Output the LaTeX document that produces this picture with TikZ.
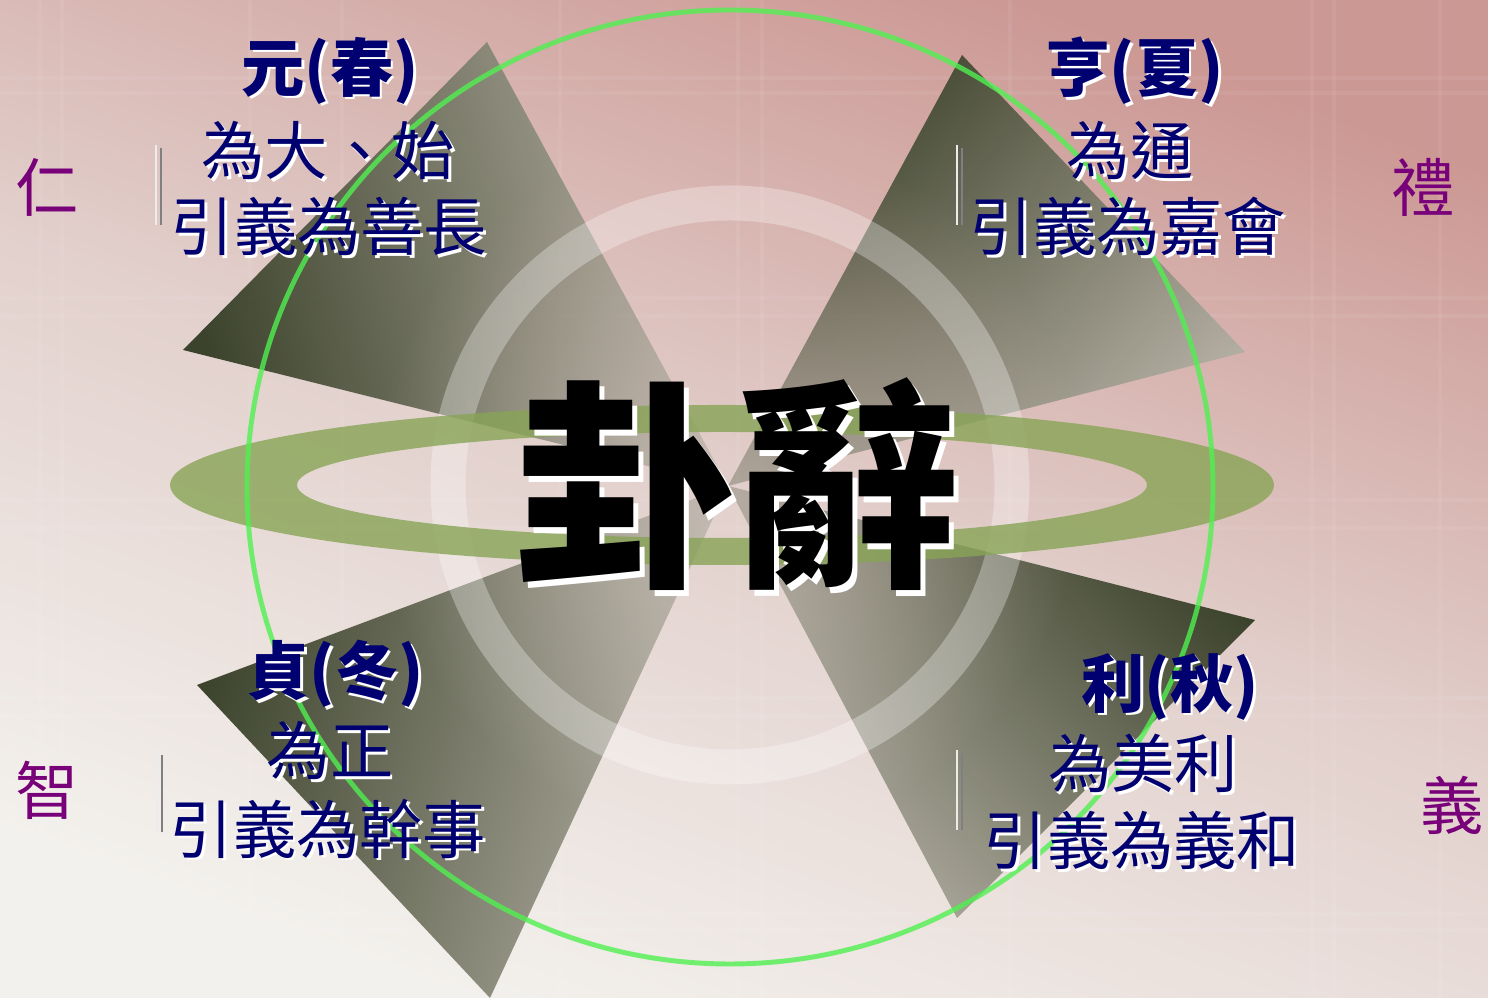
\documentclass[tikz,border=0pt]{standalone}
\usepackage{fontspec}
\newfontfamily\cjk{Noto Sans CJK TC}
\usetikzlibrary{fadings}

\definecolor{bgtop}{RGB}{204,152,148}
\definecolor{bgmid}{RGB}{226,208,204}
\definecolor{bgbot}{RGB}{243,241,237}
\definecolor{olivedark}{RGB}{52,60,36}
\definecolor{greylight}{RGB}{178,174,162}
\definecolor{bandgreen}{RGB}{136,164,86}
\definecolor{ringgreen}{RGB}{80,240,80}
\definecolor{navy}{RGB}{0,0,112}
\definecolor{plum}{RGB}{120,0,120}

\tikzfading[name=midfade, inner color=transparent!55, outer color=transparent!0]

% white drop shadow behind a text
\newcommand\shtext[2]{\rlap{\kern#1\raisebox{-#1}{\color{white}#2}}#2}

\begin{document}
\begin{tikzpicture}[x=0.01cm,y=0.01cm]
  \tikzset{season/.style={text=navy, inner sep=0pt, font=\cjk\bfseries\fontsize{18}{20}\selectfont},
    gloss/.style={text=navy, inner sep=0pt, font=\cjk\fontsize{18}{20}\selectfont},
    virtue/.style={text=plum, inner sep=0pt, font=\cjk\fontsize{18}{20}\selectfont},
    wedge/.style={top color=olivedark, bottom color=greylight, fill opacity=0.95,
      path fading=midfade, fit fading=false, fading transform={shift={(728,514)}, scale=4}},
    bar/.style={line width=0.5pt},
  }
  \useasboundingbox (0,0) rectangle (1488,998);
  \shade[top color=bgtop, bottom color=bgbot, middle color=bgmid, shading angle=-20] (0,0) rectangle (1488,998);
  %% faint plaid
  \foreach \gx in {40,62,250,342,560,738,762,1010,1312,1334,1440}
    \draw[white, opacity=0.06, line width=1.2pt] (\gx,0) -- (\gx,998);
  \foreach \gy in {68,84,282,300,470,498,682,700,905,920}
    \draw[white, opacity=0.06, line width=1.2pt] (0,\gy) -- (1488,\gy);

  \coordinate (ctr) at (728,512);
  %% four wedges
  \shade[wedge, shading angle=103] (487,956) -- (183,648) -- (ctr) -- cycle;
  \shade[wedge, shading angle=44] (962,943) -- (1245,646) -- (ctr) -- cycle;
  \shade[wedge, shading angle=75] (197,313) -- (490,0) -- (ctr) -- cycle;
  \shade[wedge, shading angle=-45] (1255,378) -- (957,80) -- (ctr) -- cycle;

  %% rings
  \draw[white, opacity=0.3, line width=0.35cm] (730,513) circle [radius=282];
  \fill[bandgreen, opacity=0.8, even odd rule] (722,513) ellipse [x radius=552, y radius=80]
    (722,513) ellipse [x radius=425, y radius=53];
  \draw[ringgreen, opacity=0.8, line width=1.4pt] (730,511) ellipse [x radius=483, y radius=477];

  %% bullet bars
  \foreach \bx/\by in {156/853,957/853,157/246,957/248}{
    \draw[bar, white!85!gray] (\bx,\by) -- ++(0,-80);
    \draw[bar, gray] (\bx+5,\by-3) -- ++(0,-77);
  }

  %% title
  \node[inner sep=0pt, font=\cjk\bfseries\fontsize{63}{70}\selectfont] (title) at (737,511) {\shtext{1.5pt}{卦辭}};

  %% seasons
  \node[season] (yuan) at (330,926) {\shtext{0.8pt}{元(春)}};
  \node[gloss] (yuan1) at (328,846) {\shtext{0.8pt}{為大、始}};
  \node[gloss] (yuan2) at (329,770) {\shtext{0.8pt}{引義為善長}};
  \node[season] (heng) at (1135,926) {\shtext{0.8pt}{亨(夏)}};
  \node[gloss] (heng1) at (1130,846) {\shtext{0.8pt}{為通}};
  \node[gloss] (heng2) at (1128,770) {\shtext{0.8pt}{引義為嘉會}};
  \node[season] (zhen) at (335,323) {\shtext{0.8pt}{貞(冬)}};
  \node[gloss] (zhen1) at (330,246) {\shtext{0.8pt}{為正}};
  \node[gloss] (zhen2) at (328,168) {\shtext{0.8pt}{引義為幹事}};
  \node[season] (li) at (1170,310) {\shtext{0.8pt}{利(秋)}};
  \node[gloss] (li1) at (1143,233) {\shtext{0.8pt}{為美利}};
  \node[gloss] (li2) at (1142,156) {\shtext{0.8pt}{引義為義和}};

  %% virtues
  \node[virtue] (ren) at (47,811) {仁};
  \node[virtue] (lii) at (1423,811) {禮};
  \node[virtue] (zhi) at (47,208) {智};
  \node[virtue] (yi) at (1452,193) {義};
\end{tikzpicture}
\end{document}
